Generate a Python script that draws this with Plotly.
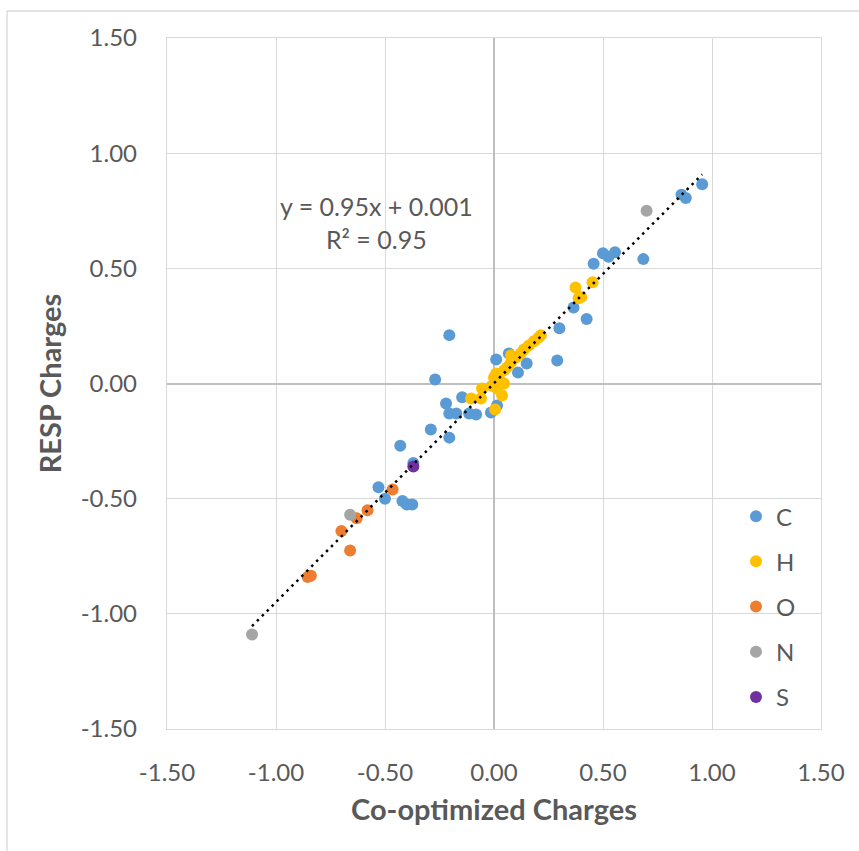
import plotly.graph_objects as go

# ---- data ----
c_x = [0.955, 0.86, 0.88, 0.50, 0.525, 0.555, 0.457, 0.685, 0.365, 0.425, 0.30, 0.29,
       -0.205, 0.01, 0.068, 0.15, 0.11, -0.146, -0.22, -0.205, -0.173, -0.114, -0.082,
       -0.014, 0.014, -0.205, -0.27, -0.29, -0.43, -0.37, -0.53, -0.50, -0.42, -0.40, -0.375]
c_y = [0.865, 0.82, 0.805, 0.565, 0.55, 0.57, 0.52, 0.54, 0.33, 0.28, 0.24, 0.10,
       0.21, 0.104, 0.13, 0.087, 0.048, -0.06, -0.087, -0.13, -0.13, -0.13, -0.135,
       -0.126, -0.096, -0.235, 0.017, -0.20, -0.27, -0.345, -0.45, -0.50, -0.51, -0.525, -0.525]

h_x = [0.452, 0.374, 0.388, 0.40, 0.215, 0.205, 0.183, 0.16, 0.137, 0.123, 0.10, 0.078, 0.078,
       0.06, 0.046, 0.01, 0.0, 0.023, 0.046, -0.01, 0.014, 0.037, -0.055, -0.06, -0.105, 0.005]
h_y = [0.44, 0.417, 0.37, 0.375, 0.21, 0.20, 0.183, 0.165, 0.148, 0.13, 0.113, 0.122, 0.091,
       0.07, 0.057, 0.043, 0.026, 0.022, 0.0, -0.01, -0.022, -0.052, -0.022, -0.065, -0.065, -0.113]

o_x = [-0.855, -0.84, -0.66, -0.70, -0.63, -0.58, -0.465]
o_y = [-0.84, -0.835, -0.725, -0.64, -0.585, -0.55, -0.46]

n_x = [-1.11, -0.66, 0.70]
n_y = [-1.09, -0.57, 0.75]

s_x = [-0.37]
s_y = [-0.36]

series_names = ["C", "H", "O", "N", "S"]
series_colors = ["#5B9BD5", "#FFC000", "#ED7D31", "#A5A5A5", "#7030A0"]

trend_slope = 0.95
trend_intercept = 0.001
trend_label = "y = 0.95x + 0.001<br>R² = 0.95"

x_ticks = [-1.5, -1.0, -0.5, 0.0, 0.5, 1.0, 1.5]
y_ticks = [-1.5, -1.0, -0.5, 0.0, 0.5, 1.0, 1.5]
tick_text = ["-1.50", "-1.00", "-0.50", "0.00", "0.50", "1.00", "1.50"]

FONT = "Lato"
TXT = "#595959"

fig = go.Figure()
all_x, all_y = [c_x, h_x, o_x, n_x, s_x], [c_y, h_y, o_y, n_y, s_y]
for name, col, xs, ys in zip(series_names, series_colors, all_x, all_y):
    fig.add_trace(go.Scatter(
        x=xs, y=ys, mode="markers", name=name, legendgroup=name,
        marker=dict(color=col, size=12, line=dict(width=0)),
    ))

xmin = min(min(v) for v in all_x)
xmax = max(max(v) for v in all_x)
fig.add_trace(go.Scatter(
    x=[xmin, xmax],
    y=[trend_slope * xmin + trend_intercept, trend_slope * xmax + trend_intercept],
    mode="lines", showlegend=False, hoverinfo="skip",
    line=dict(color="black", width=2.5, dash="2.5px,4.5px"),
))

fig.add_annotation(
    x=-0.54, y=0.70, xref="x", yref="y", text=trend_label, showarrow=False,
    font=dict(family=FONT, size=25, color=TXT), align="center",
)

axis_common = dict(
    showgrid=True, gridcolor="#D9D9D9", gridwidth=1.3,
    zeroline=True, zerolinecolor="#BFBFBF", zerolinewidth=1.8,
    showline=True, linecolor="#D9D9D9", linewidth=1.3, mirror=True,
    tickfont=dict(family=FONT, size=24, color=TXT),
    ticks="outside", tickcolor="rgba(0,0,0,0)",
    fixedrange=True,
)

fig.update_xaxes(
    range=[-1.5, 1.5], tickvals=x_ticks, ticktext=tick_text, ticklen=22,
    title=dict(text="<b>Co-optimized Charges</b>", font=dict(family=FONT, size=29, color=TXT), standoff=14),
    **axis_common,
)
fig.update_yaxes(
    range=[-1.5, 1.5], tickvals=y_ticks, ticktext=tick_text, ticklen=24,
    title=dict(text="<b>RESP Charges</b>", font=dict(family=FONT, size=29, color=TXT), standoff=10),
    **axis_common,
)

# outer chart border (top and left edges visible in the reference)
fig.add_shape(type="line", xref="paper", yref="paper", x0=-160/654, x1=1.1, y0=1 + 27/691, y1=1 + 27/691,
              line=dict(color="#D9D9D9", width=1.3))
fig.add_shape(type="line", xref="paper", yref="paper", x0=-160/654, x1=-160/654, y0=1 + 27/691, y1=-0.2,
              line=dict(color="#D9D9D9", width=1.3))

fig.update_layout(
    width=859, height=851,
    margin=dict(l=167, r=38, t=38, b=122, autoexpand=False),
    paper_bgcolor="white", plot_bgcolor="white",
    showlegend=True,
    legend=dict(
        x=0.87, y=0.34, xanchor="left", yanchor="top",
        font=dict(family=FONT, size=24, color=TXT),
        bgcolor="rgba(0,0,0,0)", tracegroupgap=11, itemsizing="constant", itemwidth=30,
    ),
    font=dict(family=FONT, color=TXT),
)

fig.write_html("out.html")
